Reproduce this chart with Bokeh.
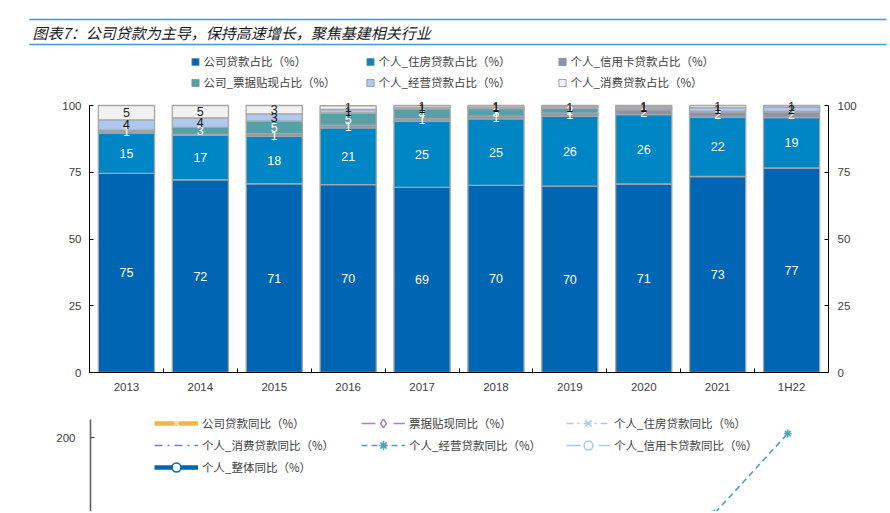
import numpy as np
from bokeh.plotting import figure
from bokeh.models import (ColumnDataSource, Range1d, LinearAxis, FixedTicker,
                          Legend, LegendItem)
from bokeh.layouts import column
from bokeh.embed import file_html
from bokeh.resources import INLINE
from bokeh.core.properties import value

# ---------------- data ----------------
categories = ["2013", "2014", "2015", "2016", "2017", "2018", "2019", "2020", "2021", "1H22"]

title_text = "图表7：公司贷款为主导，保持高速增长，聚焦基建相关行业"

share_names = ["公司贷款占比（%）", "个人_住房贷款占比（%）", "个人_信用卡贷款占比（%）",
               "公司_票据贴现占比（%）", "个人_经营贷款占比（%）", "个人_消费贷款占比（%）"]
corp_share = [74.6, 72.2, 70.7, 70.4, 69.3, 70.1, 69.8, 70.6, 73.4, 76.6]
mortgage_share = [15.1, 16.6, 17.7, 21.2, 24.8, 24.9, 26.2, 26.0, 22.2, 18.9]
card_share = [0.8, 0.4, 1.1, 1.0, 1.0, 1.0, 1.1, 1.8, 1.8, 2.0]
bill_share = [0.3, 2.6, 4.6, 4.6, 3.6, 2.8, 1.9, 0.4, 0.4, 0.3]
business_share = [3.8, 3.6, 2.8, 1.3, 0.6, 0.6, 0.6, 0.7, 1.4, 1.6]
consumer_share = [5.4, 4.6, 3.1, 1.4, 0.7, 0.6, 0.4, 0.5, 0.8, 0.6]
share_ticks = [0, 25, 50, 75, 100]

yoy_names = ["公司贷款同比（%）", "票据贴现同比（%）", "个人_住房贷款同比（%）",
             "个人_消费贷款同比（%）", "个人_经营贷款同比（%）", "个人_信用卡贷款同比（%）",
             "个人_整体同比（%）"]
corp_yoy = [12, 10, 11, 13, 12, 11, 12, 13, 14, 15]
bill_yoy = [-20, 80, 95, 20, -10, -15, -25, -30, 30, 60]
mortgage_yoy = [18, 20, 25, 45, 38, 17, 15, 12, 8, 5]
consumer_yoy = [25, 30, 20, 15, 30, 10, 12, 8, 15, 20]
business_yoy = [10, 5, -5, -20, -15, 0, 30, 45, 105, 205]
card_yoy = [30, 28, 25, 20, 18, 10, 8, 5, 6, 3]
retail_yoy = [15, 16, 18, 22, 20, 15, 13, 11, 10, 9]
yoy_ticks = [0, 100, 200]

# ---------------- styles ----------------
W = 888
FONT_CJK = "Noto Sans CJK SC"
FONT_NUM = "Liberation Sans"
share_colors = ["#0066b3", "#0086c5", "#8c93a9", "#58a0a8", "#aec8f0", "#f2f2f2"]
label_colors = ["white", "white", "white", "white", "#111111", "#222222"]
bar_edge = "#a6a6a6"
tick_color = "#404040"

n = len(categories)
xs = np.arange(n) + 0.5

# ---------------- title ----------------
TH = 50
tf = figure(width=W, height=TH, x_range=Range1d(0, W), y_range=Range1d(TH, 0),
            min_border=0, output_backend="svg", toolbar_location=None,
            x_axis_location=None, y_axis_location=None)
tf.frame_align = False
tf.outline_line_color = None
tf.grid.visible = False
tf.segment(x0=[29, 29], y0=[19, 44], x1=[886, 886], y1=[19, 44],
           line_color="#3d9ad8", line_width=1.5)
tf.text(x=[32], y=[32], text=[title_text], text_font=value(FONT_CJK),
        text_font_style="italic", text_font_size="15px", text_baseline="middle",
        text_color="#1a1a1a")

# ---------------- stacked bar chart ----------------
# frame: 322 px tall, value 100 sits 55 px below its top (legend lives above it)
top_end = 100 * 322 / 267
top = figure(width=W, height=350, x_range=Range1d(0, n), y_range=Range1d(0, top_end),
             output_backend="svg", toolbar_location=None,
             min_border_left=89, min_border_right=60, min_border_top=0, min_border_bottom=28)
top.frame_align = False
top.outline_line_color = None
top.grid.visible = False

keys = ["corp", "mortgage", "card", "bill", "business", "consumer"]
series = [corp_share, mortgage_share, card_share, bill_share, business_share, consumer_share]
src = ColumnDataSource(dict(x=xs, **{k: v for k, v in zip(keys, series)}))
bars = top.vbar_stack(keys, x="x", width=0.76, source=src, fill_color=share_colors,
                      line_color=bar_edge, line_width=1.3)

stack = np.array(series, dtype=float)
tops = np.cumsum(stack, axis=0)
mids = tops - stack / 2
lx, ly, lt, lc = [], [], [], []
for si in range(stack.shape[0]):
    for ci in range(n):
        v = int(stack[si, ci] + 0.5)
        if v >= 1:
            lx.append(xs[ci]); ly.append(mids[si, ci]); lt.append(str(v)); lc.append(label_colors[si])
lsrc = ColumnDataSource(dict(x=lx, y=ly, text=lt, color=lc))
top.text(x="x", y="y", text="text", text_color="color", source=lsrc, text_align="center",
         text_baseline="middle", text_font=value(FONT_NUM), text_font_size="12.5px")

xa = top.xaxis[0]
xa.ticker = FixedTicker(ticks=[float(x) for x in xs], minor_ticks=list(range(1, n)))
xa.major_label_overrides = {float(x): c for x, c in zip(xs, categories)}
xa.major_tick_in = 0
xa.major_tick_out = 0
xa.minor_tick_in = 4
xa.minor_tick_out = 0
xa.minor_tick_line_color = "black"
xa.axis_line_color = "black"
xa.major_label_standoff = 8
xa.major_label_text_font = FONT_NUM
xa.major_label_text_font_size = "11.5px"
xa.major_label_text_color = tick_color

def style_y(ax, standoff):
    ax.ticker = FixedTicker(ticks=share_ticks)
    ax.bounds = (share_ticks[0], share_ticks[-1])
    ax.major_tick_in = 4
    ax.major_tick_out = 0
    ax.minor_tick_in = 0
    ax.minor_tick_out = 0
    ax.axis_line_color = "black"
    ax.major_tick_line_color = "black"
    ax.major_label_standoff = standoff
    ax.major_label_text_font = FONT_NUM
    ax.major_label_text_font_size = "11.5px"
    ax.major_label_text_color = tick_color

style_y(top.yaxis[0], 8)
ra = LinearAxis()
style_y(ra, 9)
top.add_layout(ra, "right")

# legend proxies (square swatches)
proxies = []
for c in share_colors:
    proxies.append(top.scatter(x=[float("nan")], y=[float("nan")], marker="square",
                               size=7, fill_color=c, line_color="#8c8c8c", line_width=0.8))

def add_legend(fig, items, loc, gw, gh, standoff):
    lg = Legend(items=items, location=loc, orientation="vertical",
                glyph_width=gw, glyph_height=gh, label_height=gh, label_standoff=standoff,
                spacing=0, padding=0, margin=0, border_line_color=None,
                background_fill_alpha=0, label_text_font=FONT_CJK,
                label_text_font_size="11.5px", label_text_color="#404040")
    fig.add_layout(lg)

cols_top = [[0, 3], [1, 4], [2, 5]]
col_x = [96.6, 271.6, 463.6]
for col, vx in zip(cols_top, col_x):
    items = [LegendItem(label=share_names[i], renderers=[proxies[i]]) for i in col]
    add_legend(top, items, (vx, 279.5), 18, 21, 0)

# ---------------- line chart (upper part) ----------------
BH = 111
s = 0.8  # px per unit
y_top = yoy_ticks[-1] + 37 / s
y_bot = yoy_ticks[-1] - (BH - 37) / s
bot = figure(width=W, height=BH, x_range=Range1d(0, n), y_range=Range1d(y_bot, y_top),
             output_backend="svg", toolbar_location=None, x_axis_location=None,
             min_border_left=90, min_border_right=64, min_border_top=0, min_border_bottom=0)
bot.frame_align = False
bot.outline_line_color = None
bot.grid.visible = False
ya = bot.yaxis[0]
ya.ticker = FixedTicker(ticks=yoy_ticks)
ya.bounds = (-100, yoy_ticks[-1] + 18 / s)
ya.major_tick_in = 4
ya.major_tick_out = 0
ya.minor_tick_in = 0
ya.minor_tick_out = 0
ya.axis_line_color = "#606060"
ya.axis_line_width = 1.6
ya.major_tick_line_color = "#404040"
ya.major_label_standoff = 15
ya.major_label_text_font = FONT_NUM
ya.major_label_text_font_size = "11.5px"
ya.major_label_text_color = tick_color

yoy_keys = ["corp", "bill", "mortgage", "consumer", "business", "card", "retail"]
yoy_series = [corp_yoy, bill_yoy, mortgage_yoy, consumer_yoy, business_yoy, card_yoy, retail_yoy]
src2 = ColumnDataSource(dict(x=xs, **{k: v for k, v in zip(yoy_keys, yoy_series)}))

line_styles = {
    "corp":     dict(color="#f0b840", width=4.5, dash="solid", marker="x", mfill="#f0b840", mline="#fde8b0"),
    "bill":     dict(color="#a08cb0", width=1.6, dash="14 18", marker="diamond", mfill="white", mline="#a08cb0"),
    "mortgage": dict(color="#b4c6e0", width=1.6, dash="7 4 2 4", marker="x", mfill="#b4c6e0", mline="#b4c6e0"),
    "consumer": dict(color="#7583a3", width=1.6, dash="8 5 2 5", marker=None, mfill=None, mline=None),
    "business": dict(color="#4aa6b6", width=1.6, dash="6 4", marker="asterisk", mfill="#4aa6b6", mline="#4aa6b6"),
    "card":     dict(color="#a9c8f2", width=1.6, dash="14 18", marker="circle", mfill="white", mline="#a9c8f2"),
    "retail":   dict(color="#0066b3", width=4.5, dash="solid", marker="circle", mfill="white", mline="#0066b3"),
}

line_items = []
for k, name in zip(yoy_keys, yoy_names):
    st = line_styles[k]
    rs = [bot.line(x="x", y=k, source=src2, line_color=st["color"], line_width=st["width"],
                   line_dash=st["dash"])]
    if st["marker"]:
        rs.append(bot.scatter(x="x", y=k, source=src2, marker=st["marker"], size=8,
                              fill_color=st["mfill"], line_color=st["mline"], line_width=1.5))
    line_items.append(LegendItem(label=name, renderers=rs))

cols_bot = [[0, 3, 6], [1, 4], [2, 5]]
bot_locs = [(64, 33), (271, 55), (476, 55)]
for col, loc in zip(cols_bot, bot_locs):
    add_legend(bot, [line_items[i] for i in col], loc, 44, 22, 4)

layout = column(tf, top, bot, spacing=0)
open("out.html", "w").write(file_html(layout, INLINE))
